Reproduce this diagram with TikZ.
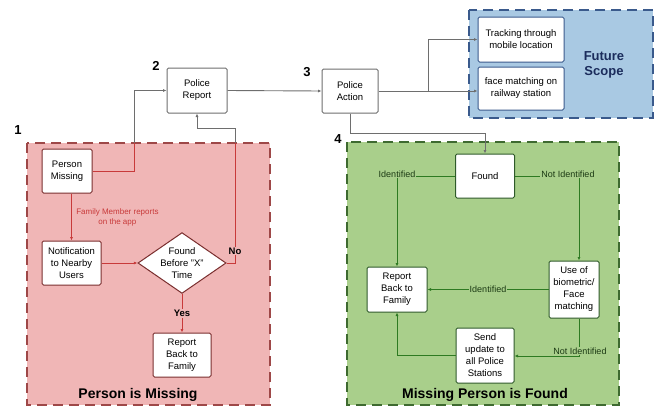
\documentclass[tikz,border=0pt]{standalone}
\usepackage{fontspec}
\setmainfont{Liberation Sans}
\usetikzlibrary{arrows.meta,shapes.geometric}
\definecolor{pinkfill}{HTML}{F0B6B6}
\definecolor{pinkedge}{HTML}{9E4848}
\definecolor{redline}{HTML}{C83A3A}
\definecolor{redbox}{HTML}{7A2E2E}
\definecolor{greenfill}{HTML}{A9CF8B}
\definecolor{greenedge}{HTML}{3E6A30}
\definecolor{greenline}{HTML}{2E7A22}
\definecolor{greenbox}{HTML}{2F5A2A}
\definecolor{greentext}{HTML}{1C3A14}
\definecolor{bluefill}{HTML}{A9C9E3}
\definecolor{blueedge}{HTML}{3A5A8C}
\definecolor{bluetext}{HTML}{1B2C5C}
\definecolor{grayline}{HTML}{6E6E6E}
\begin{document}
\begin{tikzpicture}[x=1pt,y=-1pt,
  region/.style={line width=1.3pt,dash pattern=on 10pt off 6pt},
  box/.style={draw,fill=white,rounded corners=1.5pt,line width=1pt,align=center,
    inner sep=1pt,font=\fontsize{9.5}{12}\selectfont},
  redbx/.style={box,draw=redbox},
  greenbx/.style={box,draw=greenbox},
  graybx/.style={box,draw=grayline},
  conn/.style={line width=0.9pt,-{Latex[length=3.5pt,width=3pt]}},
  plain/.style={line width=0.9pt},
  lbl/.style={inner sep=1pt,font=\fontsize{9}{11}\selectfont},
  num/.style={font=\fontsize{13}{15}\selectfont\bfseries},
  title/.style={font=\fontsize{14}{16}\selectfont\bfseries}]
\useasboundingbox (0,0) rectangle (662,408);

% coloured regions
\draw[region,draw=pinkedge,fill=pinkfill] (27,143) rectangle (270,405);
\draw[region,draw=greenedge,fill=greenfill] (347,142) rectangle (619,405);
\draw[region,draw=blueedge,fill=bluefill] (469,10) rectangle (653,118);

% section numbers
\node[num] (n1) at (18,130) {1};
\node[num] (n2) at (156,66) {2};
\node[num] (n3) at (307,72) {3};
\node[num] (n4) at (338,139) {4};

% region titles
\node[title] (t1) at (138,395) {Person is Missing};
\node[title] (t4) at (485,395) {Missing Person is Found};
\node[font=\fontsize{13}{15}\selectfont\bfseries,text=bluetext,align=center] (t3) at (604,65) {Future\\Scope};

% top row
\node[graybx,minimum width=60pt,minimum height=45pt] (pr) at (197,90.5) {Police\\Report};
\node[graybx,minimum width=56pt,minimum height=44pt] (pa) at (350,91) {Police\\Action};
\node[graybx,draw=blueedge,minimum width=86pt,minimum height=45pt] (tr) at (521,39.5) {Tracking through\\mobile location};
\node[graybx,draw=blueedge,minimum width=86pt,minimum height=43pt] (fm) at (521,88.5) {face matching on\\railway station};

% person is missing
\node[redbx,minimum width=50pt,minimum height=44pt] (pm) at (67,171) {Person\\Missing};
\node[redbx,minimum width=59pt,minimum height=44pt] (nt) at (71.5,263) {Notification\\to Nearby\\Users};
\node[draw=redbox,fill=white,diamond,aspect=1.45,line width=1pt,align=center,inner sep=0pt,
  minimum width=76pt,minimum height=53pt,font=\fontsize{9.5}{12}\selectfont] (dia) at (182,263) {Found\\Before "X"\\Time};
\node[redbx,minimum width=58pt,minimum height=44pt] (rp) at (182,355) {Report\\Back to\\Family};

% missing person is found
\node[greenbx,minimum width=59pt,minimum height=44pt] (fd) at (485,176) {Found};
\node[greenbx,minimum width=60pt,minimum height=45pt] (rg) at (397,289.5) {Report\\Back to\\Family};
\node[greenbx,minimum width=50pt,minimum height=57pt] (bm) at (574,289.5) {Use of\\biometric/\\Face\\matching};
\node[greenbx,minimum width=58pt,minimum height=55pt] (su) at (485,355.5) {Send\\update to\\all Police\\Stations};

% connectors in the red region and out of it
\coordinate (pexit) at (134,143);
\draw[plain,redline] (pm.east) -| (pexit);
\draw[conn,grayline] (pexit) |- (pr.west);
\draw[conn,redline] (pm.south -| nt.north) -- (nt.north)
  node[midway,right=1pt,text=redline,align=center,font=\fontsize{8}{10}\selectfont] {Family Member reports\\on the app};
\draw[conn,redline] (nt.east) -- (dia.west);
\draw[conn,redline] (dia.south) -- (rp.north) node[midway,fill=pinkfill,text=black,lbl,font=\fontsize{9.5}{11}\selectfont\bfseries] {Yes};
\coordinate (nexit) at (235,143);
\coordinate (nbend) at (235,128);
\draw[plain,redline] (dia.east) -| (nexit);
\draw[conn,grayline] (nexit) -- (nbend) -| (pr.south);
\node[lbl,fill=pinkfill,font=\fontsize{9.5}{11}\selectfont\bfseries] (no) at (235,251) {No};

% top row connectors
\draw[conn,grayline] (pr.east) -- (pa.west);
\coordinate (split) at (428,91);
\draw[conn,grayline] (pa.east) -- (pa.east -| fm.west);
\draw[conn,grayline] (split) |- (tr.west);
\coordinate (pabend) at (485,133);
\draw[conn,grayline] (pa.south) |- (pabend) -- (fd.north);

% connectors in the green region
\draw[conn,greenline] (fd.west) -| (rg.north);
\node[lbl,fill=greenfill,text=greentext] at (397,174) {Identified};
\draw[conn,greenline] (fd.east) -| (bm.north -| 579,0);
\node[lbl,fill=greenfill,text=greentext] at (568,174) {Not Identified};
\draw[conn,greenline] (bm.west) -- (rg.east) node[midway,lbl,fill=greenfill,text=greentext] {Identified};
\coordinate (bmturn) at (579,356);
\draw[conn,greenline] (bm.south -| bmturn) -- (bmturn) -- (su.east |- bmturn);
\node[lbl,fill=greenfill,text=greentext] at (580,351) {Not Identified};
\draw[conn,greenline] (su.west) -| (rg.south);
\end{tikzpicture}
\end{document}
